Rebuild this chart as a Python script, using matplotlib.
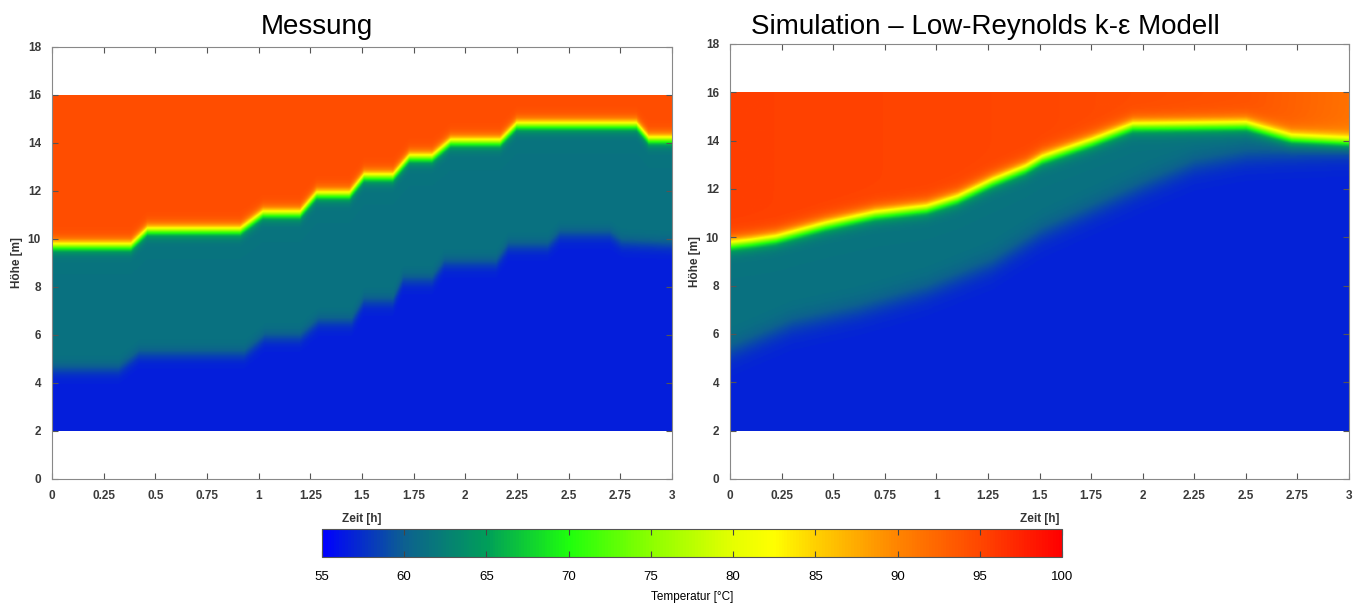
import numpy as np
import matplotlib
matplotlib.use("Agg")
import matplotlib.pyplot as plt
from matplotlib.colors import LinearSegmentedColormap

plt.rcParams['font.family'] = ['Liberation Sans', 'DejaVu Sans']

# colour scale (temperature in degC -> colour)
cmap_T = [55, 60, 65, 70, 75, 80, 82.5, 85, 90, 95, 100]
cmap_rgb = [(0.0, 0.0, 1.0), (0.05, 0.38, 0.56), (0.0, 0.62, 0.35),
            (0.12, 1.0, 0.05), (0.55, 1.0, 0.0), (0.9, 1.0, 0.0),
            (1.0, 1.0, 0.0), (1.0, 0.82, 0.0), (1.0, 0.52, 0.0),
            (1.0, 0.28, 0.0), (1.0, 0.0, 0.0)]
t_min, t_max = 55, 100

# Messung: layer interfaces (time in h, height in m)
meas_up_t = [0, 0.38, 0.46, 0.91, 1.02, 1.20, 1.28, 1.44, 1.51, 1.65, 1.73,
             1.84, 1.93, 2.17, 2.25, 2.83, 2.89, 3.0]
meas_up_h = [9.75, 9.75, 10.4, 10.4, 11.1, 11.1, 11.9, 11.9, 12.65, 12.65, 13.45,
             13.45, 14.1, 14.1, 14.8, 14.8, 14.2, 14.2]
meas_low_t = [0, 0.32, 0.42, 0.93, 1.03, 1.20, 1.29, 1.45, 1.51, 1.65, 1.70,
              1.84, 1.90, 2.15, 2.21, 2.40, 2.46, 2.70, 2.76, 3.0]
meas_low_h = [4.55, 4.55, 5.2, 5.2, 5.9, 5.9, 6.55, 6.55, 7.4, 7.4, 8.3,
              8.3, 9.0, 9.0, 9.7, 9.7, 10.2, 10.2, 9.85, 9.75]
meas_T_hot, meas_T_mid, meas_T_low = 94.5, 61.5, 56.6

# Simulation: layer interfaces
sim_up_t = [0, 0.1, 0.22, 0.46, 0.7, 0.95, 1.1, 1.27, 1.43, 1.51, 1.75, 1.95,
            2.5, 2.62, 2.72, 3.0]
sim_up_h = [9.75, 9.85, 10.0, 10.55, 11.0, 11.25, 11.65, 12.35, 12.9, 13.3, 14.0, 14.65,
            14.7, 14.4, 14.15, 14.0]
sim_low_t = [0, 0.3, 0.62, 0.95, 1.27, 1.51, 2.0, 2.25, 2.5, 3.0]
sim_low_h = [5.3, 6.4, 7.0, 7.8, 8.9, 10.2, 12.1, 13.0, 13.4, 13.6]
sim_hot_t = [0, 1.5, 2.5, 3.0]
sim_hot_T = [95.5, 95.0, 94.0, 91.5]
sim_T_mid, sim_T_low = 61.5, 56.8

x_ticks = [0, 0.25, 0.5, 0.75, 1, 1.25, 1.5, 1.75, 2, 2.25, 2.5, 2.75, 3]
y_ticks = [0, 2, 4, 6, 8, 10, 12, 14, 16, 18]
cb_ticks = [55, 60, 65, 70, 75, 80, 85, 90, 95, 100]

cmap = LinearSegmentedColormap.from_list(
    'temp', [((v - t_min) / (t_max - t_min), c) for v, c in zip(cmap_T, cmap_rgb)])

# grid for rendering the fields (2..16 m tank height)
tt = np.linspace(0, 3, 600)
hh = np.linspace(2, 16, 420)
TT, HH = np.meshgrid(tt, hh)


def layers(up_t, up_h, low_t, low_h, T_hot, T_mid, T_low, w_up, w_low):
    hu = np.interp(tt, up_t, up_h)[None, :]
    hl = np.interp(tt, low_t, low_h)[None, :]
    s_up = 0.5 * (1 + np.tanh((HH - hu) / w_up))
    s_low = 0.5 * (1 + np.tanh((HH - hl) / w_low))
    return T_low + (T_mid - T_low) * s_low + (T_hot - T_mid) * s_up


meas_field = layers(meas_up_t, meas_up_h, meas_low_t, meas_low_h,
                    meas_T_hot, meas_T_mid, meas_T_low, 0.27, 0.35)
sim_hot = np.interp(tt, sim_hot_t, sim_hot_T)[None, :]
sim_field = layers(sim_up_t, sim_up_h, sim_low_t, sim_low_h,
                   sim_hot, sim_T_mid, sim_T_low, 0.32, 0.6)

fig = plt.figure(figsize=(13.65, 6.08), dpi=100)
ax1 = fig.add_axes([0.0381, 0.2122, 0.4542, 0.7105])
ax2 = fig.add_axes([0.5348, 0.2122, 0.4535, 0.7155])

for ax, field in [(ax1, meas_field), (ax2, sim_field)]:
    im = ax.imshow(field, extent=[0, 3, 2, 16], origin='lower', aspect='auto',
                   cmap=cmap, vmin=t_min, vmax=t_max, interpolation='bilinear')
    ax.set_xlim(0, 3)
    ax.set_ylim(0, 18)
    ax.set_xticks(x_ticks)
    ax.set_xticklabels(['%g' % v for v in x_ticks])
    ax.set_yticks(y_ticks)
    ax.tick_params(direction='in', top=True, right=True, length=4, width=0.8,
                   color='#555555', labelsize=8.5, labelcolor='#3a3a3a', pad=8)
    for lab in ax.get_xticklabels() + ax.get_yticklabels():
        lab.set_fontweight('bold')
    for sp in ax.spines.values():
        sp.set_color('#888888')
    ax.set_xlabel('Zeit [h]', fontsize=8.5, color='#333333', fontweight='bold')
    ax.xaxis.set_label_coords(0.5, -0.078)
    ax.set_ylabel('Höhe [m]', fontsize=8.5, color='#333333', fontweight='bold',
                  labelpad=3)

fig.text(0.232, 0.955, 'Messung', fontsize=20, ha='center', va='center')
fig.text(0.722, 0.955, 'Simulation – Low-Reynolds k-ε Modell', fontsize=20,
         ha='center', va='center')

cax = fig.add_axes([0.2359, 0.0839, 0.5421, 0.046])
cb = fig.colorbar(im, cax=cax, orientation='horizontal', ticks=cb_ticks)
cb.outline.set_edgecolor('#555555')
cax.tick_params(direction='in', top=True, length=4, color='#444444',
                labelsize=9.5, pad=10)
cb.set_label('Temperatur [°C]', fontsize=8.5, labelpad=6)

fig.savefig('out.png', dpi=100)
